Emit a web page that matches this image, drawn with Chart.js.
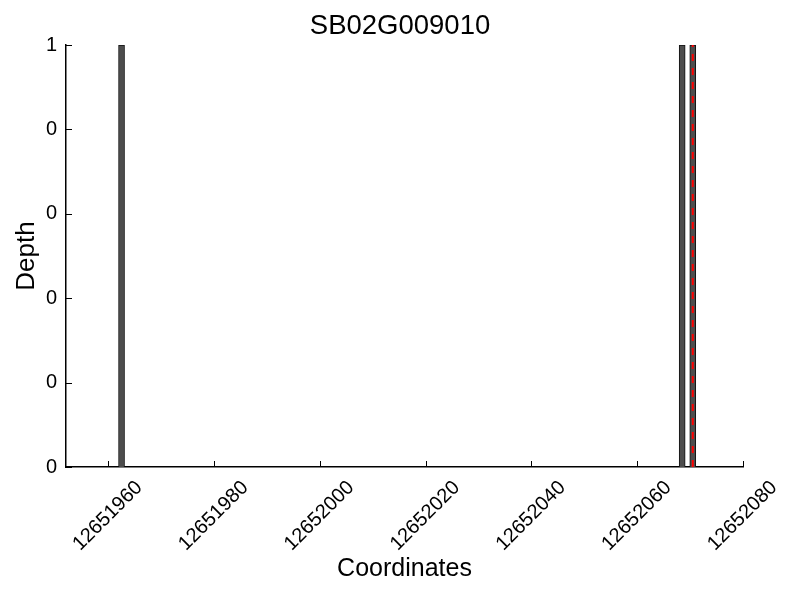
<!DOCTYPE html>
<html lang="en">
<head>
	<meta charset="utf-8">
	<script src="https://cdn.jsdelivr.net/npm/chart.js@4/dist/chart.umd.min.js"></script>
	<style>
		body { margin: 0; background: #fff; }
		#wrap { width: 800px; height: 600px; }
	</style>
</head>
<body>
<div id="wrap"><canvas id="chart" width="800" height="600"></canvas></div>

<script type="text/javascript">
"use strict";

// read coverage values (bar centres and depth)
var positions = [12651962.5, 12652068.5, 12652070.5];
var depths = [1, 1, 1];

// red dashed marker
var markerPos = 12652070.5;
var markerRange = [0, 1];

var xTicks = [12651960, 12651980, 12652000, 12652020, 12652040, 12652060, 12652080];
var yTicks = [0, 0.2, 0.4, 0.6, 0.8, 1];

var FONT = "'Liberation Sans', Arial, Helvetica, sans-serif";

// gnuplot-like inward tick marks
var inwardTicks = {
	id: 'inwardTicks',
	afterDraw: function(chart) {
		var ctx = chart.ctx;
		var xs = chart.scales.x, ys = chart.scales.y;
		var area = chart.chartArea;
		ctx.save();
		ctx.strokeStyle = '#000';
		ctx.lineWidth = 1;
		ctx.beginPath();
		xTicks.forEach(function(v) {
			var px = Math.round(xs.getPixelForValue(v)) + 0.5;
			ctx.moveTo(px, area.bottom);
			ctx.lineTo(px, area.bottom - 6);
		});
		yTicks.forEach(function(v) {
			var py = Math.round(ys.getPixelForValue(v)) + 0.5;
			ctx.moveTo(area.left, py);
			ctx.lineTo(area.left + 6, py);
		});
		ctx.stroke();
		ctx.restore();
	}
};

var barData = positions.map(function(p, i) { return {x: p, y: depths[i]}; });
var lineData = markerRange.map(function(d) { return {x: markerPos, y: d}; });

new Chart(document.getElementById('chart'), {
	type: 'bar',
	data: {
		datasets: [{
			type: 'line',
			data: lineData,
			borderColor: '#ff0000',
			borderWidth: 2,
			borderDash: [7, 7],
			pointRadius: 0,
			fill: false,
			order: 0
		}, {
			type: 'bar',
			data: barData,
			backgroundColor: '#4d4d4d',
			borderColor: '#111111',
			borderWidth: 1,
			barThickness: 6,
			order: 1
		}]
	},
	plugins: [inwardTicks],
	options: {
		responsive: false,
		animation: false,
		layout: { padding: 0 },
		plugins: {
			legend: { display: false },
			tooltip: { enabled: false },
			title: {
				display: true,
				text: 'SB02G009010',
				color: '#000',
				font: { family: FONT, size: 27.5, weight: 'normal' },
				padding: { top: 10, bottom: 2 }
			}
		},
		scales: {
			x: {
				type: 'linear',
				offset: false,
				min: 12651952,
				max: 12652080,
				afterFit: function(s) { s.height = 133; s.paddingRight = 57; s.paddingLeft = 0; },
				afterBuildTicks: function(s) {
					s.ticks = xTicks.map(function(v) { return {value: v}; });
				},
				grid: { display: false, drawTicks: false, offset: false },
				border: { display: true, color: '#000', width: 1.5 },
				ticks: {
					color: '#000',
					font: { family: FONT, size: 20 },
					minRotation: 45,
					maxRotation: 45,
					autoSkip: false,
					labelOffset: 31,
					padding: 9,
					callback: function(v) { return String(v); }
				},
				title: {
					display: true,
					text: 'Coordinates',
					color: '#000',
					font: { family: FONT, size: 25 },
					padding: { top: 0, bottom: 16 }
				}
			},
			y: {
				min: 0,
				max: 1,
				afterFit: function(s) { s.width = 66; },
				afterBuildTicks: function(s) {
					s.ticks = yTicks.map(function(v) { return {value: v}; });
				},
				grid: { display: false, drawTicks: false },
				border: { display: true, color: '#000', width: 1.5 },
				ticks: {
					color: '#000',
					font: { family: FONT, size: 20 },
					padding: 9,
					callback: function(v) { return String(Math.trunc(v)); }
				},
				title: {
					display: true,
					text: 'Depth',
					color: '#000',
					font: { family: FONT, size: 26 },
					padding: { top: 11, bottom: 0 }
				}
			}
		}
	}
});
</script>
</body>
</html>
